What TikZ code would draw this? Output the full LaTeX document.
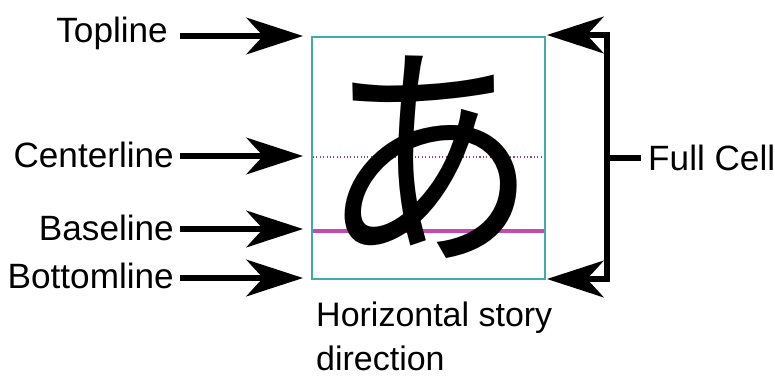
\documentclass[tikz,border=0pt]{standalone}
\usepackage{fontspec}
\setmainfont{Liberation Sans}
\newfontfamily\cjk{Noto Sans CJK JP}
\usepackage{xcolor}
\usetikzlibrary{
	arrows.meta,
	positioning
}
\definecolor{CellTeal}{RGB}{64,170,172}
\definecolor{BaseMagenta}{RGB}{196,74,176}
\definecolor{CenterPurple}{RGB}{160,60,140}

\begin{document}
\begin{tikzpicture}[x=0.03cm, y=-0.03cm,
		lbl/.style={font=\fontsize{30}{34}\selectfont, inner sep=0pt},
		bigarrow/.style={line width=4.6pt, -{Stealth[length=17mm, width=11mm, inset=5mm]}}]
		\useasboundingbox (0,0) rectangle (775,383);
		% cell
		\draw[CellTeal, line width=1pt] (312,37) rectangle (545,279);
		\draw[CenterPurple, dotted, line width=0.9pt] (313,157) -- (544,157);
		\draw[BaseMagenta, line width=3pt] (313,231) -- (544,231);
		\node[inner sep=0pt, xscale=0.9] (glyph) at (430,157) {\cjk\fontsize{205}{205}\selectfont あ};
		
		% left labels
		\node[lbl, anchor=east] (top) at (168,33) {Topline};
		\node[lbl, anchor=east] (center) at (174,155) {Centerline};
		\node[lbl, anchor=east] (base) at (174,228) {Baseline};
		\node[lbl, anchor=east] (bottom) at (174,276) {Bottomline};
		\coordinate (topE) at (303,36);
		\coordinate (centerE) at (303,156);
		\coordinate (baseE) at (303,229);
		\coordinate (bottomE) at (303,278);
		\draw[bigarrow] (top.east |- topE) ++(12,0) -- (topE);
		\draw[bigarrow] (center.east |- centerE) ++(6,0) -- (centerE);
		\draw[bigarrow] (base.east |- baseE) ++(6,0) -- (baseE);
		\draw[bigarrow] (bottom.east |- bottomE) ++(6,0) -- (bottomE);
		
		% bracket
		\coordinate (bt) at (607,35);
		\coordinate (bb) at (607,279);
		\coordinate (bm) at (607,158);
		\draw[bigarrow] ([xshift=2.3pt]bt) -- (547,35);
		\draw[bigarrow] ([xshift=2.3pt]bb) -- (547,279);
		\draw[line width=4.6pt] ([yshift=2.3pt]bt) -- ([yshift=-2.3pt]bb);
		\node[lbl, anchor=west] (full) at (648,158) {Full Cell};
		\draw[line width=4.6pt] (bm) -- ([xshift=-2mm]full.west);
		
		\node[lbl, anchor=north west, align=left, font=\fontsize{29}{37}\selectfont] (story) at (316,302) {Horizontal story\\direction};
	\end{tikzpicture}
\end{document}
